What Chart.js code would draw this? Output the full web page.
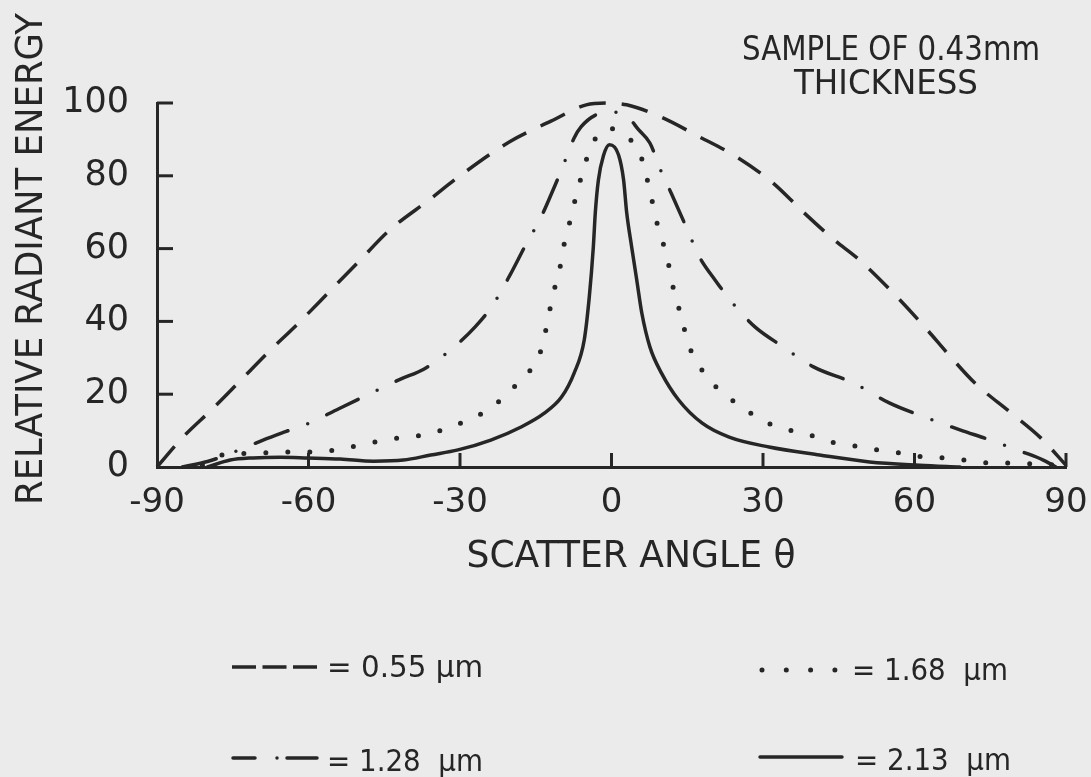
<!DOCTYPE html>
<html>
<head>
<meta charset="utf-8">
<script src="https://cdn.jsdelivr.net/npm/chart.js@4"></script>
<style>
    html, body { margin: 0; padding: 0; background: #ebebeb; }
    #wrap { width: 1091px; height: 777px; }
</style>
</head>
<body>
<div id="wrap"><canvas id="scatterChart" width="1091" height="777"></canvas></div>
<script>
const INK = "#262626";
const FONT = "'DejaVu Sans', sans-serif";

// axis ticks
const xTickLabels = ["-90", "-60", "-30", "0", "30", "60", "90"];
const yTickLabels = ["0", "20", "40", "60", "80", "100"];

// series names (wavelengths)
const seriesLabels = ["0.55 \u00b5m", "1.28  \u00b5m", "1.68  \u00b5m", "2.13  \u00b5m"];

// 0.55 um - dashed
const angle055 = [-90, -85, -79, -74, -68, -62, -56, -50, -44, -36, -30, -20, -12, -5, -1, 3, 10, 17, 25, 32, 38, 44, 49, 56, 62, 67, 72, 79, 85, 90];
const energy055 = [0, 8, 16, 23, 31.5, 39.5, 48, 56.5, 65, 73.5, 80, 89.5, 95, 99.5, 100, 99.5, 96, 91, 85, 78, 70, 62.5, 57, 47.5, 38.5, 30.5, 23, 15, 8, 0.5];

// 1.28 um - dash dot
const angle128 = [-85, -80, -74, -69, -65, -60, -54, -48, -42, -37, -32, -27, -23.5, -20, -17, -14, -11.3, -9.9, -7.4, -6, -3, 0, 3, 5.4, 7.6, 9.9, 11.9, 15.3, 17.3, 20.5, 24.3, 28.4, 34, 40, 48, 55, 62, 69, 75, 81.5, 85.5, 88];
const energy128 = [0, 1.5, 4.5, 7.4, 9.5, 12, 16, 20, 24, 27, 32, 38.5, 44.5, 53, 61, 68.5, 77, 81.6, 90.4, 93.5, 96.8, 97.5, 96.5, 92.6, 89, 81, 75, 64.3, 58, 51.4, 44.5, 38.5, 33, 27.5, 23, 17.6, 13.7, 10.2, 7.4, 4.1, 1.9, 0];

// 1.68 um - dotted
const angle168 = [-81, -77, -70.6, -65.6, -61, -56, -51.7, -46.7, -42.1, -37.2, -32.4, -28.4, -25.2, -21.3, -17.5, -14.5, -13.3, -12.5, -11.5, -10.3, -9.5, -8.5, -7.6, -6.6, -5.6, -4.4, -2.4, -0.4, 3.6, 5.6, 6.8, 7.8, 8.7, 9.9, 11.1, 11.9, 12.9, 14.1, 15.3, 17.3, 19.7, 23.1, 26.6, 30.4, 34.4, 38.6, 42.7, 47.3, 52.7, 57.3, 62, 65.6, 70, 75, 79.9, 83.9, 90];
const energy168 = [0.5, 3.3, 3.8, 4.1, 4.1, 4.4, 5.5, 6.9, 8, 8.8, 10.7, 12.9, 15.1, 19.2, 24.7, 29.9, 35.7, 41.2, 47.8, 54.1, 60.4, 65.9, 71.2, 76.6, 81.6, 86.7, 91.8, 93, 90.1, 86.3, 80.5, 74.7, 68.7, 62.9, 57.1, 51.1, 45.9, 39.6, 33.5, 28, 23.4, 19.2, 15.7, 12.4, 10.4, 9.1, 7.1, 6, 4.7, 3.8, 2.7, 2.5, 1.9, 1.1, 1.1, 0.8, 0.5];

// 2.13 um - solid
const angle213 = [-80, -75.5, -71, -65.6, -60.2, -53.7, -47.1, -41.2, -35.8, -30.4, -23.9, -17.9, -13.3, -9.9, -7.4, -5.4, -4.4, -3.6, -3.2, -2.6, -1.6, -0.4, 1.4, 2.4, 3, 4, 5, 6, 7.6, 9.9, 13.3, 17.9, 23.3, 31.2, 41.2, 51.1, 61, 69];
const energy213 = [0, 1.9, 2.5, 2.7, 2.5, 2.2, 1.6, 1.9, 3.3, 4.7, 7.4, 11, 14.8, 19.2, 25.8, 34.9, 46.7, 60.4, 70, 78.8, 85.5, 88.5, 85.7, 78.8, 70, 60.4, 51.4, 42.3, 33, 25.8, 18.4, 12.1, 8.2, 5.5, 3.3, 1.4, 0.5, 0];

function toPoints(xs, ys) {
    return xs.map((x, i) => ({ x: x, y: ys[i] }));
}

function lineSet(label, xs, ys, width, dash, cap) {
    return {
        label: label,
        data: toPoints(xs, ys),
        borderColor: INK,
        borderWidth: width,
        borderDash: dash,
        borderCapStyle: cap,
        borderJoinStyle: "round",
        pointRadius: 0,
        fill: false,
        cubicInterpolationMode: "monotone",
        clip: false
    };
}

// legend slots: [datasetIndex, lineStart, lineEnd, lineY, textX, textBaseline, sampleDash]
const legendSlots = [
    [0, 232, 317, 667, 327, 677, [24, 6.5]],
    [1, 233, 317, 758, 327, 771, [22, 22, 0, 10, 30, 100]],
    [2, 762, 838, 670, 852, 680, [0, 24.3]],
    [3, 760, 842, 757, 855, 770, []]
];

const paperText = {
    id: "paperText",
    afterDraw(chart) {
        const ctx = chart.ctx;
        const area = chart.chartArea;
        const xs = chart.scales.x;
        const ys = chart.scales.y;
        ctx.save();

        // tick marks point inward, like the hand drawn axes
        ctx.strokeStyle = INK;
        ctx.lineWidth = 3;
        xs.ticks.forEach(t => {
            if (t.value === -90) return;
            const px = xs.getPixelForValue(t.value);
            ctx.beginPath();
            ctx.moveTo(px, area.bottom);
            ctx.lineTo(px, area.bottom - 14);
            ctx.stroke();
        });
        ys.ticks.forEach(t => {
            if (t.value === 0) return;
            const py = ys.getPixelForValue(t.value);
            ctx.beginPath();
            ctx.moveTo(area.left, py);
            ctx.lineTo(area.left + 16, py);
            ctx.stroke();
        });

        ctx.fillStyle = INK;
        ctx.textAlign = "center";
        ctx.textBaseline = "alphabetic";

        // sample note
        ctx.font = "33px " + FONT;
        ctx.fillText("SAMPLE OF 0.43mm", 891, 60, 298);
        ctx.fillText("THICKNESS", 886, 94, 184);

        // axis titles
        ctx.font = "37px " + FONT;
        ctx.fillText("SCATTER ANGLE \u03b8", 631, 567, 329);
        ctx.save();
        ctx.translate(42, 259);
        ctx.rotate(-Math.PI / 2);
        ctx.fillText("RELATIVE RADIANT ENERGY", 0, 0, 492);
        ctx.restore();

        // legend
        ctx.textAlign = "left";
        ctx.font = "30px " + FONT;
        legendSlots.forEach(s => {
            const ds = chart.data.datasets[s[0]];
            ctx.save();
            ctx.strokeStyle = ds.borderColor;
            ctx.lineWidth = ds.borderWidth;
            ctx.lineCap = ds.borderCapStyle;
            ctx.setLineDash(s[6]);
            ctx.beginPath();
            ctx.moveTo(s[1], s[3]);
            ctx.lineTo(s[2], s[3]);
            ctx.stroke();
            ctx.restore();
            ctx.fillText("= " + ds.label, s[4], s[5], 156);
        });

        ctx.restore();
    }
};

const ctx = document.getElementById("scatterChart").getContext("2d");
new Chart(ctx, {
    type: "line",
    data: {
        datasets: [
            lineSet(seriesLabels[0], angle055, energy055, 3.5, [27, 16], "butt"),
            lineSet(seriesLabels[1], angle128, energy128, 3.5, [35, 21, 0, 21], "round"),
            lineSet(seriesLabels[2], angle168, energy168, 5, [0, 22], "round"),
            lineSet(seriesLabels[3], angle213, energy213, 3.5, [], "round")
        ]
    },
    plugins: [paperText],
    options: {
        responsive: false,
        animation: false,
        layout: { padding: { left: 0, right: 25, top: 103, bottom: 0 } },
        plugins: {
            legend: { display: false },
            tooltip: { enabled: false }
        },
        scales: {
            x: {
                type: "linear",
                min: -90,
                max: 90,
                grid: { display: false, drawTicks: false },
                border: { display: true, color: INK, width: 3 },
                ticks: {
                    stepSize: 30,
                    color: INK,
                    padding: 16,
                    maxRotation: 0,
                    font: { family: FONT, size: 34 },
                    callback: (value, i) => xTickLabels[i]
                },
                afterFit: scale => {
                    scale.height = 310;
                    scale.paddingLeft = 0;
                    scale.paddingRight = 0;
                }
            },
            y: {
                type: "linear",
                min: 0,
                max: 100,
                grid: { display: false, drawTicks: false },
                border: { display: true, color: INK, width: 3 },
                ticks: {
                    stepSize: 20,
                    color: INK,
                    padding: 28,
                    font: { family: FONT, size: 35 },
                    callback: (value, i) => yTickLabels[i]
                },
                afterFit: scale => {
                    scale.width = 157;
                    scale.paddingTop = 0;
                    scale.paddingBottom = 0;
                }
            }
        }
    }
});
</script>
</body>
</html>
